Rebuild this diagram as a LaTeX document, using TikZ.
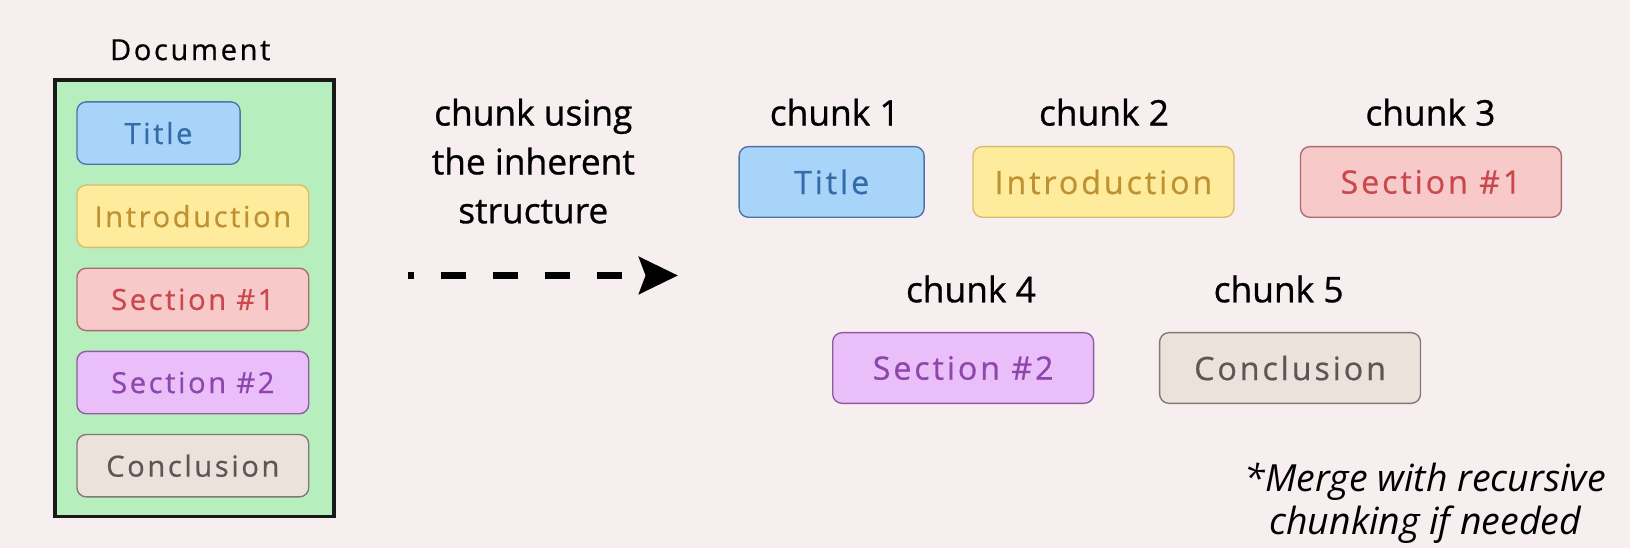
\documentclass[tikz,border=0pt]{standalone}
\usepackage{fontspec}
\setmainfont{Open Sans}
\usetikzlibrary{arrows.meta}

\definecolor{bgpink}{RGB}{247,238,239}
\definecolor{docgreen}{RGB}{183,238,190}
\definecolor{titlefill}{RGB}{168,212,250}
\definecolor{titleline}{RGB}{72,118,168}
\definecolor{titletext}{RGB}{52,108,170}
\definecolor{introfill}{RGB}{254,235,155}
\definecolor{introline}{RGB}{218,188,110}
\definecolor{introtext}{RGB}{190,145,50}
\definecolor{secafill}{RGB}{248,201,201}
\definecolor{sealine}{RGB}{168,110,110}
\definecolor{secatext}{RGB}{200,72,78}
\definecolor{secbfill}{RGB}{234,190,248}
\definecolor{secbline}{RGB}{140,92,160}
\definecolor{secbtext}{RGB}{140,70,172}
\definecolor{conclfill}{RGB}{234,226,219}
\definecolor{conclline}{RGB}{128,120,115}
\definecolor{concltext}{RGB}{92,86,86}

\newcommand{\piecefont}{\fontsize{28}{34}\selectfont\addfontfeature{LetterSpace=9,FakeBold=0.6}}
\newcommand{\chunkpiecefont}{\fontsize{31}{37}\selectfont\addfontfeature{LetterSpace=9,FakeBold=0.6}}
\newcommand{\capfont}{\fontsize{34}{47}\selectfont\addfontfeature{FakeBold=0.8}}

\begin{document}
\begin{tikzpicture}[
    x=1pt,y=-1pt,
    piece/.style={
        draw,
        rounded corners=9pt,
        line width=1.3pt,
        inner sep=0pt,
        font=\piecefont
    },
    docpiece/.style={piece,minimum height=60pt,minimum width=223pt},
    chunkpiece/.style={piece,minimum height=68pt,minimum width=251pt,
        font=\chunkpiecefont},
    ptitle/.style={fill=titlefill,draw=titleline,text=titletext},
    pintro/.style={fill=introfill,draw=introline,text=introtext},
    pseca/.style={fill=secafill,draw=sealine,text=secatext},
    psecb/.style={fill=secbfill,draw=secbline,text=secbtext},
    pconcl/.style={fill=conclfill,draw=conclline,text=concltext},
    chunklabel/.style={font=\capfont,inner sep=0pt},
    every node/.style={text=black}
]

\fill[bgpink] (0,0) rectangle (1568,527);
\useasboundingbox (0,0) rectangle (1568,527);

% the whole document
\node[font=\piecefont] (doclabel) at (183,48) {Document};
\node[draw=black!90,fill=docgreen,line width=3.5pt,
      minimum width=268pt,minimum height=420pt] (doc) at (187,287) {};

\node[docpiece,ptitle,minimum width=157pt] (dTitle) at (152.5,128) {Title};
\node[docpiece,pintro] (dIntro) at (185.5,208) {Introduction};
\node[docpiece,pseca]  (dSecA)  at (185.5,288) {Section \#1};
\node[docpiece,psecb]  (dSecB)  at (185.5,368) {Section \#2};
\node[docpiece,pconcl] (dConcl) at (185.5,448) {Conclusion};

% the step in between
\node[chunklabel,align=center] (how) at (513,155)
    {chunk using\\the inherent\\structure};

\coordinate (arrS) at (392,265);
\coordinate (arrE) at (652,265);
\draw[line width=6pt,dash pattern=on 24pt off 26pt,dash phase=18pt,
      -{Stealth[length=38pt,width=37pt,inset=7pt,line width=0pt]}]
    (arrS) -- (arrE);

% the chunks
\node[chunklabel] (lab1) at (803,108) {chunk 1};
\node[chunklabel] (lab2) at (1062,108) {chunk 2};
\node[chunklabel] (lab3) at (1376,108) {chunk 3};
\node[chunklabel] (lab4) at (934,278) {chunk 4};
\node[chunklabel] (lab5) at (1230,278) {chunk 5};

\node[chunkpiece,ptitle,minimum width=178pt] (cTitle) at (800,175) {Title};
\node[chunkpiece,pintro] (cIntro) at (1061.5,175) {Introduction};
\node[chunkpiece,pseca]  (cSecA)  at (1376.5,175) {Section \#1};
\node[chunkpiece,psecb]  (cSecB)  at (926.5,354) {Section \#2};
\node[chunkpiece,pconcl] (cConcl) at (1241,354) {Conclusion};

\node[align=center,inner sep=0pt,
      font=\fontsize{36}{42}\selectfont\itshape] (merge) at (1371,484)
    {*Merge with recursive\\chunking if needed};

\end{tikzpicture}
\end{document}
